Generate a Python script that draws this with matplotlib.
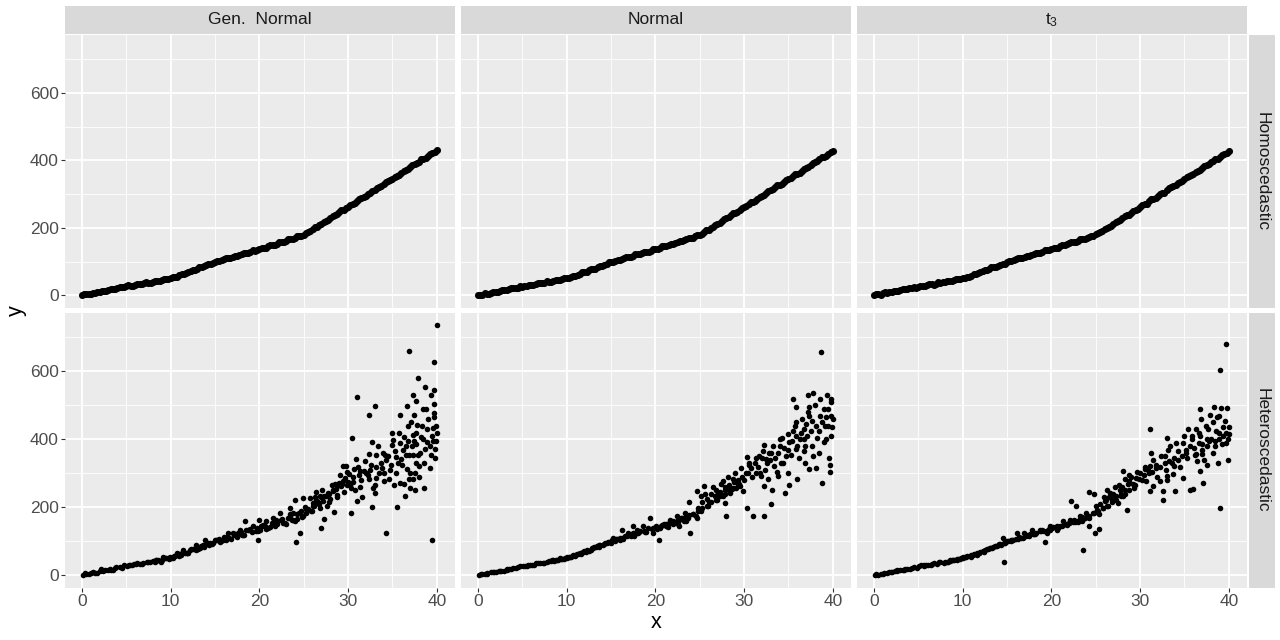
import matplotlib
matplotlib.use("Agg")
import matplotlib.pyplot as plt
import numpy as np

plt.rcParams['font.family'] = ['Liberation Sans', 'DejaVu Sans']
plt.rcParams['mathtext.fontset'] = 'custom'
plt.rcParams['mathtext.rm'] = 'Liberation Sans'

# ---------------- data ----------------
col_labels = ["Gen.  Normal", "Normal", r"$\mathregular{t_3}$"]
row_labels = ["Homoscedastic", "Heteroscedastic"]
x_ticks = [0, 10, 20, 30, 40]
y_ticks = [0, 200, 400, 600]

x_grid = [0, 0.5, 1, 1.5, 2, 2.5, 3, 3.5, 4, 4.5, 5, 5.5, 6, 6.5, 7, 7.5, 8, 8.5, 9, 9.5,
          10, 10.5, 11, 11.5, 12, 12.5, 13, 13.5, 14, 14.5, 15, 15.5, 16, 16.5, 17, 17.5,
          18, 18.5, 19, 19.5, 20, 20.5, 21, 21.5, 22, 22.5, 23, 23.5, 24, 24.5, 25, 25.5,
          26, 26.5, 27, 27.5, 28, 28.5, 29, 29.5, 30, 30.5, 31, 31.5, 32, 32.5, 33, 33.5,
          34, 34.5, 35, 35.5, 36, 36.5, 37, 37.5, 38, 38.5, 39, 39.5, 40]
x_grid_mid = [0.25, 0.75, 1.25, 1.75, 2.25, 2.75, 3.25, 3.75, 4.25, 4.75, 5.25, 5.75, 6.25,
              6.75, 7.25, 7.75, 8.25, 8.75, 9.25, 9.75, 10.25, 10.75, 11.25, 11.75, 12.25,
              12.75, 13.25, 13.75, 14.25, 14.75, 15.25, 15.75, 16.25, 16.75, 17.25, 17.75,
              18.25, 18.75, 19.25, 19.75, 20.25, 20.75, 21.25, 21.75, 22.25, 22.75, 23.25,
              23.75, 24.25, 24.75, 25.25, 25.75, 26.25, 26.75, 27.25, 27.75, 28.25, 28.75,
              29.25, 29.75, 30.25, 30.75, 31.25, 31.75, 32.25, 32.75, 33.25, 33.75, 34.25,
              34.75, 35.25, 35.75, 36.25, 36.75, 37.25, 37.75, 38.25, 38.75, 39.25, 39.75]

gn_homo_y = [1, 3, 5, 8, 11, 13, 16, 18, 21, 24, 27, 29, 31, 33, 36, 38, 40, 43, 45, 48,
             51, 55, 60, 64, 69, 74, 79, 84, 89, 94, 99, 103, 107, 111, 114, 118, 122, 126,
             130, 133, 137, 141, 145, 149, 153, 157, 162, 166, 170, 175, 180, 188, 196, 204,
             213, 221, 229, 237, 246, 254, 263, 271, 279, 288, 296, 304, 313, 321, 329, 338,
             346, 354, 363, 371, 380, 388, 396, 405, 413, 421, 430]
gn_homo_mid_y = [4, 3, 8, 9, 14, 14, 19, 19, 24, 25, 30, 29, 34, 34, 39, 38, 44, 43, 49, 49,
                 55, 56, 64, 66, 73, 76, 84, 86, 94, 96, 103, 104, 111, 112, 118, 119, 126, 127,
                 134, 134, 141, 142, 149, 150, 157, 159, 166, 167, 175, 176, 186, 191, 202, 208,
                 219, 224, 235, 241, 252, 258, 269, 274, 286, 291, 302, 308, 319, 324, 336, 341,
                 352, 358, 369, 375, 386, 391, 403, 408, 419, 425]
nm_homo_y = [0, 2, 5, 8, 10, 14, 16, 19, 21, 23, 26, 29, 31, 34, 36, 38, 41, 43, 46, 48,
             51, 55, 59, 64, 69, 74, 78, 83, 88, 93, 98, 102, 106, 110, 114, 118, 122, 126,
             129, 133, 137, 141, 145, 149, 153, 158, 162, 166, 170, 175, 179, 187, 195, 204,
             212, 220, 228, 237, 245, 253, 262, 270, 278, 287, 295, 303, 311, 320, 328, 336,
             345, 353, 361, 369, 378, 386, 394, 403, 411, 419, 427]
nm_homo_mid_y = [0, 6, 5, 11, 11, 17, 17, 22, 21, 27, 27, 32, 31, 37, 36, 42, 41, 46, 46, 52,
                 52, 59, 61, 68, 70, 78, 79, 88, 89, 98, 99, 106, 107, 114, 115, 122, 123, 130,
                 130, 137, 138, 145, 146, 153, 155, 162, 163, 170, 171, 179, 182, 193, 199, 210,
                 215, 226, 231, 243, 248, 260, 265, 276, 281, 293, 298, 309, 315, 326, 331, 342,
                 348, 359, 364, 376, 381, 392, 397, 409, 414, 425]
t3_homo_y = [1, 3, 6, 8, 11, 13, 15, 18, 21, 24, 26, 28, 31, 33, 35, 38, 41, 43, 46, 48,
             51, 54, 59, 63, 68, 74, 79, 84, 88, 93, 98, 103, 107, 111, 115, 118, 122, 126,
             130, 134, 138, 141, 145, 149, 154, 157, 161, 166, 171, 175, 181, 188, 196, 204,
             212, 220, 229, 237, 245, 253, 262, 270, 279, 287, 295, 303, 312, 320, 328, 336,
             345, 353, 361, 370, 378, 386, 394, 403, 411, 419, 427]
t3_homo_mid_y = [3, 2, 9, 9, 13, 12, 19, 19, 23, 23, 29, 29, 33, 32, 39, 39, 43, 42, 49, 49,
                 53, 54, 63, 65, 72, 74, 84, 85, 91, 94, 102, 104, 110, 111, 118, 119, 125, 126,
                 134, 135, 141, 141, 149, 151, 157, 157, 166, 167, 174, 176, 186, 191, 201, 206,
                 218, 223, 234, 239, 251, 257, 267, 272, 285, 290, 300, 305, 318, 323, 333, 338,
                 351, 356, 366, 372, 384, 389, 399, 405, 417, 422]

band_x = [0.1, 0.5, 1.0, 1.5, 2.0, 2.4, 2.9, 3.3, 3.7, 4.5, 5.3, 5.7, 6.1, 6.8, 7.5, 8.2,
          8.6, 9.0, 9.7, 10.1, 10.5, 11.2, 11.6, 12.0, 12.7, 13.1, 13.6, 14.3, 15.0, 15.7,
          16.4, 16.8, 17.6, 18.2, 19.0, 19.8, 20.2, 20.7, 21.4, 21.8, 22.5, 23.0, 23.5, 24.2,
          24.7]
gn_band_y = [2, 3, 6, 7, 12, 12, 16, 16, 21, 23, 29, 29, 33, 34, 39, 40, 45, 44, 50, 50,
             57, 60, 67, 67, 78, 77, 88, 89, 103, 100, 114, 108, 124, 120, 136, 130, 146, 137,
             155, 146, 166, 150, 180, 165, 190]
nm_band_y = [1, 4, 4, 9, 10, 14, 14, 18, 19, 25, 27, 31, 31, 36, 37, 42, 42, 46, 48, 54,
             53, 64, 63, 72, 74, 83, 82, 95, 96, 108, 106, 117, 115, 128, 126, 140, 135, 148,
             142, 158, 152, 170, 160, 180, 168]
t3_band_y = [2, 2, 5, 8, 11, 13, 16, 17, 20, 24, 29, 30, 31, 36, 38, 40, 44, 45, 49, 51,
             56, 61, 66, 68, 77, 79, 86, 90, 101, 103, 112, 111, 121, 122, 133, 133, 142, 140,
             152, 148, 162, 158, 172, 168, 183]

band2_x = [8.3, 8.9, 9.4, 9.8, 10.4, 10.9, 11.3, 11.9, 12.3, 12.9, 13.4, 13.8, 14.2, 14.7,
           15.1, 15.6, 16.0, 16.6, 17.1, 17.5, 17.9, 18.3, 18.7, 19.2, 19.7, 20.1, 20.6, 21.0,
           21.5, 22.0, 22.4, 22.9, 23.3, 23.8, 24.3, 24.8, 25.3, 25.8, 26.3, 26.8, 27.3, 27.8,
           28.3, 28.8, 29.3]
gn_band2_y = [46, 40, 51, 47, 57, 56, 66, 65, 76, 75, 87, 84, 95, 93, 104, 98, 112, 109, 118,
              113, 127, 120, 133, 127, 140, 133, 146, 140, 155, 150, 162, 154, 170, 163, 180,
              172, 195, 188, 210, 198, 232, 215, 250, 230, 268]
nm_band2_y = [44, 46, 49, 52, 53, 61, 63, 70, 74, 80, 85, 90, 93, 99, 104, 108, 111, 117, 118,
              124, 124, 130, 131, 138, 139, 145, 146, 152, 154, 160, 160, 168, 170, 178, 180,
              190, 198, 205, 215, 222, 232, 240, 250, 258, 265]
t3_band2_y = [40, 45, 46, 51, 55, 58, 64, 66, 73, 76, 84, 86, 92, 95, 101, 103, 108, 111, 116,
              117, 122, 124, 129, 130, 136, 138, 144, 145, 151, 153, 158, 160, 167, 170, 176,
              182, 190, 198, 205, 215, 222, 232, 240, 250, 258]

gn_hetero = [
    (40.0, 736), (36.9, 659), (39.7, 629), (37.9, 580), (38.7, 553), (39.7, 545), (31.0, 525),
    (37.3, 532), (39.3, 532), (37.6, 514), (33.0, 497), (32.4, 471), (36.6, 499), (39.7, 503),
    (35.8, 473), (37.4, 471), (38.4, 489), (38.8, 489), (39.7, 477), (39.7, 465), (37.1, 450),
    (37.8, 442), (39.6, 432), (30.4, 405), (40.0, 418), (35.7, 418), (35.1, 397), (36.3, 408),
    (37.3, 413), (38.2, 406), (38.9, 391), (32.7, 391), (34.9, 384), (36.5, 381), (37.7, 385),
    (38.7, 371), (39.8, 371), (39.8, 345), (39.2, 317), (32.4, 356), (33.1, 353), (33.9, 361),
    (34.5, 351), (35.4, 349), (36.0, 343), (36.9, 354), (37.7, 331), (38.0, 322), (37.3, 353),
    (30.9, 341), (30.7, 312), (29.8, 321), (29.4, 321), (30.1, 297), (31.3, 307), (31.8, 307),
    (32.4, 282), (33.0, 267), (33.5, 302), (34.1, 277), (34.6, 282), (35.2, 267), (35.8, 272),
    (36.6, 312), (36.9, 282), (37.3, 282), (37.5, 302), (36.4, 233), (37.0, 257), (37.5, 252),
    (38.6, 257), (35.5, 201), (32.7, 202), (34.3, 125), (39.5, 103), (30.3, 183), (31.0, 218),
    (31.6, 231), (33.0, 243), (32.8, 258), (30.8, 252), (30.3, 257), (29.9, 267), (29.4, 277),
    (29.0, 272), (28.5, 270), (28.3, 248), (28.8, 262), (27.7, 243), (27.5, 233), (27.2, 218),
    (26.8, 233), (26.4, 245), (26.4, 223), (25.7, 227), (24.9, 227), (26.0, 213), (26.2, 203),
    (28.4, 186), (27.3, 167), (26.9, 138), (24.1, 97), (24.6, 124), (24.0, 159), (23.4, 174),
    (24.9, 174), (25.3, 183), (24.5, 183), (23.8, 183), (23.4, 198), (24.0, 223), (22.3, 183),
    (21.9, 164), (21.5, 169), (20.8, 159), (20.0, 164), (20.4, 149), (19.9, 105), (19.3, 144),
    (18.4, 159), (18.5, 134), (17.8, 134), (17.0, 124), (16.5, 124), (15.9, 105), (15.2, 105),
    (13.9, 105), (14.4, 95), (12.9, 90), (12.2, 75), (11.4, 75), (10.7, 65), (9.9, 55),
    (9.2, 55), (8.4, 45), (7.7, 40), (6.9, 35), (6.2, 35), (5.4, 30), (4.7, 30), (3.9, 25),
    (3.2, 20), (2.2, 20), (1.3, 11), (0.4, 6),
    (0.8, 5), (1.7, 8), (2.6, 15), (3.5, 17), (4.3, 24), (5.1, 26), (5.9, 33), (6.6, 33),
    (7.3, 39), (8.0, 41), (8.8, 43), (9.5, 50), (10.3, 52), (11.0, 62), (11.8, 65), (12.5, 77),
    (13.3, 80), (14.1, 93), (14.8, 95), (15.5, 107), (16.2, 104), (17.3, 121), (18.0, 118),
    (18.8, 133), (19.6, 130), (20.5, 146), (21.2, 143), (22.0, 158), (22.7, 154), (23.2, 170),
    (23.7, 162),
    (25.5, 195), (26.0, 205), (26.6, 215), (27.0, 230), (27.9, 240), (28.6, 255), (29.2, 262),
    (29.6, 285), (30.0, 275), (30.5, 290), (31.2, 295), (31.5, 280), (32.0, 300), (32.5, 310),
    (33.2, 320), (33.7, 330), (34.0, 300), (34.3, 340), (34.8, 325), (35.3, 365), (35.6, 330),
    (36.2, 370), (36.5, 355), (36.8, 395), (37.2, 380), (37.6, 420), (38.1, 360), (38.4, 400),
    (38.9, 430), (39.2, 380), (39.5, 410), (39.9, 395),
    (25.2, 200), (25.9, 190), (26.3, 230), (26.7, 210), (27.1, 250), (27.6, 205), (28.0, 225),
    (28.2, 265), (28.7, 235), (29.1, 295), (29.5, 245), (29.9, 305), (30.2, 265), (30.6, 275),
    (31.1, 320), (31.4, 260), (31.9, 335), (32.2, 295), (32.6, 325), (33.1, 285), (33.4, 380),
    (33.8, 315), (34.2, 355), (34.7, 310), (35.0, 420), (35.4, 300), (35.9, 390), (36.1, 325),
    (36.7, 440), (37.0, 300), (37.4, 395), (37.9, 355), (38.3, 440), (38.6, 330), (39.0, 460),
    (39.3, 355), (39.6, 395), (39.9, 440), (38.0, 290), (36.3, 270),
]

nm_hetero = [
    (38.7, 656), (35.5, 519), (37.2, 531), (37.8, 536), (39.3, 531), (39.8, 519), (35.9, 494),
    (37.3, 494), (38.6, 519), (39.8, 509), (39.0, 489), (37.3, 469), (35.9, 450), (37.0, 445),
    (39.2, 465), (40.0, 460), (39.9, 437), (38.1, 440), (37.5, 425), (38.5, 425), (35.5, 425),
    (36.4, 420), (34.3, 405), (39.0, 392), (35.1, 392), (36.0, 381), (36.9, 381), (32.2, 384),
    (32.8, 361), (33.8, 361), (34.7, 351), (35.9, 371), (36.7, 366), (37.8, 351), (39.6, 346),
    (39.7, 324), (39.7, 304), (38.8, 272), (38.1, 317), (37.3, 312), (36.0, 282), (35.1, 267),
    (34.6, 243), (33.2, 252), (34.2, 331), (33.4, 321), (32.5, 341), (31.7, 351), (30.3, 349),
    (30.6, 326), (30.2, 302), (31.3, 302), (31.9, 292), (32.7, 282), (33.8, 292), (32.3, 262),
    (33.0, 211), (32.2, 174), (31.0, 176), (30.3, 197), (29.5, 262), (29.9, 248), (29.1, 257),
    (28.7, 282), (28.4, 243), (27.6, 233), (27.8, 213), (28.0, 176), (26.9, 223), (27.6, 277),
    (26.7, 233), (25.9, 203), (25.5, 262), (24.7, 249), (25.2, 233), (24.8, 198), (24.6, 174),
    (23.8, 215), (23.9, 124), (23.3, 183), (22.7, 144), (22.4, 174), (21.6, 164), (21.2, 144),
    (20.4, 105), (19.7, 124), (19.4, 169), (18.6, 144), (17.9, 134), (17.5, 144), (16.9, 124),
    (16.2, 134), (16.0, 105), (15.2, 109), (14.5, 95), (13.7, 90), (13.0, 80), (12.2, 70),
    (11.5, 65), (10.7, 60), (10.0, 50), (9.3, 50), (8.5, 45), (7.8, 40), (7.0, 36), (6.3, 31),
    (5.5, 26), (4.8, 26), (4.0, 21), (3.3, 16), (2.5, 14), (1.8, 11), (1.0, 8), (0.3, 4),
    (0.8, 4), (1.7, 10), (2.6, 13), (3.5, 19), (4.3, 22), (5.1, 28), (5.9, 30), (6.6, 35),
    (7.3, 36), (8.0, 42), (8.8, 45), (9.5, 47), (10.3, 55), (11.0, 58), (11.8, 68), (12.5, 72),
    (13.3, 84), (14.1, 88), (14.8, 99), (15.5, 101), (16.2, 110), (17.3, 115), (18.0, 125),
    (18.8, 126), (19.6, 137), (20.5, 139), (21.2, 150), (22.0, 151), (22.7, 162), (23.2, 160),
    (23.7, 170),
    (25.3, 215), (25.8, 225), (26.3, 240), (26.8, 250), (27.3, 245), (27.9, 260), (28.3, 265),
    (28.9, 275), (29.3, 280), (29.8, 290), (30.4, 300), (30.8, 315), (31.2, 330), (31.6, 320),
    (32.0, 345), (32.6, 330), (33.0, 360), (33.5, 345), (34.0, 380), (34.5, 375), (35.0, 370),
    (35.4, 395), (35.8, 410), (36.3, 400), (36.7, 430), (37.1, 410), (37.7, 455), (38.2, 405),
    (38.6, 470), (39.1, 440), (39.5, 490), (39.8, 470),
    (25.1, 190), (25.6, 240), (26.1, 215), (26.5, 260), (27.0, 235), (27.4, 270), (27.8, 250),
    (28.2, 290), (28.6, 255), (29.0, 300), (29.4, 270), (29.7, 315), (30.0, 280), (30.5, 330),
    (30.9, 290), (31.4, 345), (31.8, 300), (32.1, 365), (32.4, 310), (32.9, 340), (33.3, 380),
    (33.7, 305), (34.1, 400), (34.4, 330), (34.9, 415), (35.3, 355), (35.7, 440), (36.2, 345),
    (36.5, 460), (36.8, 400), (37.2, 480), (37.6, 380), (38.0, 500), (38.4, 360), (38.8, 450),
    (39.2, 400), (39.5, 440), (39.8, 410), (36.9, 330), (35.0, 300),
]

t3_hetero = [
    (39.7, 681), (39.0, 603), (39.0, 198), (36.7, 489), (38.3, 496), (39.1, 491), (39.8, 491),
    (37.9, 471), (36.9, 460), (38.7, 465), (39.3, 435), (40.0, 435), (35.4, 430), (36.3, 430),
    (37.6, 430), (38.6, 425), (31.1, 430), (34.8, 390), (35.8, 400), (36.7, 410), (37.5, 400),
    (38.9, 400), (39.7, 390), (33.0, 405), (33.4, 380), (34.3, 366), (35.2, 361), (36.3, 356),
    (37.0, 356), (38.2, 361), (38.8, 331), (39.9, 338), (37.5, 326), (36.7, 306), (37.1, 272),
    (35.6, 252), (36.0, 255), (34.8, 287), (33.8, 321), (32.8, 351), (31.8, 326), (31.1, 321),
    (30.5, 312), (29.9, 282), (30.7, 277), (31.5, 262), (32.2, 277), (33.0, 292), (33.7, 297),
    (33.9, 248), (32.6, 248), (32.6, 223), (31.1, 248), (29.4, 267), (28.8, 277), (28.1, 306),
    (28.3, 282), (27.7, 252), (27.3, 233), (28.1, 233), (28.5, 193), (27.5, 213), (26.6, 243),
    (26.2, 223), (26.4, 203), (25.8, 198), (25.1, 193), (24.3, 245), (24.8, 238), (23.6, 75),
    (24.9, 124), (25.4, 137), (24.3, 144), (23.4, 159), (23.9, 183), (22.8, 203), (22.2, 218),
    (23.2, 174), (22.1, 164), (21.3, 159), (20.6, 134), (19.9, 144), (19.3, 98), (19.5, 124),
    (18.7, 134), (17.8, 134), (16.9, 124), (16.1, 124), (15.4, 100), (14.6, 109), (14.7, 40),
    (13.9, 85), (13.1, 80), (12.4, 70), (11.6, 60), (10.9, 55), (10.1, 53), (9.4, 47), (8.6, 42),
    (7.9, 36), (7.1, 34), (6.4, 30), (5.6, 26), (4.9, 23), (4.1, 20), (3.4, 16), (2.6, 14),
    (1.9, 11), (1.1, 8), (0.2, 4),
    (0.8, 5), (1.7, 9), (2.6, 15), (3.5, 18), (4.3, 23), (5.1, 27), (5.9, 31), (6.6, 34),
    (7.3, 38), (8.0, 40), (8.8, 44), (9.5, 49), (10.3, 53), (11.0, 61), (11.8, 66), (12.5, 75),
    (13.3, 81), (14.1, 91), (14.8, 96), (15.5, 104), (16.2, 107), (17.3, 118), (18.0, 121),
    (18.8, 129), (19.6, 133), (20.5, 142), (21.2, 146), (22.0, 154), (22.7, 158), (23.2, 165),
    (23.7, 168),
    (25.5, 210), (26.0, 220), (26.5, 230), (27.0, 240), (27.6, 265), (28.0, 260), (28.6, 270),
    (29.0, 290), (29.5, 285), (30.0, 300), (30.4, 295), (30.9, 310), (31.3, 305), (31.8, 315),
    (32.3, 320), (32.8, 330), (33.3, 335), (33.8, 345), (34.3, 340), (34.7, 350), (35.2, 370),
    (35.6, 380), (36.1, 375), (36.6, 390), (37.0, 385), (37.5, 380), (38.0, 400), (38.4, 395),
    (38.9, 420), (39.3, 410), (39.7, 420), (40.0, 415),
    (25.0, 205), (25.4, 180), (25.9, 230), (26.3, 250), (26.8, 225), (27.2, 260), (27.8, 240),
    (28.3, 250), (28.7, 295), (29.2, 270), (29.7, 305), (30.2, 280), (30.6, 320), (31.0, 300),
    (31.5, 340), (31.9, 290), (32.4, 350), (32.9, 310), (33.2, 370), (33.6, 330), (34.1, 390),
    (34.5, 320), (34.9, 410), (35.3, 345), (35.8, 410), (36.2, 355), (36.6, 420), (37.0, 370),
    (37.4, 440), (37.8, 395), (38.2, 450), (38.5, 380), (38.9, 470), (39.2, 385), (39.6, 455),
    (39.9, 400), (36.4, 335), (33.0, 280), (31.2, 360), (37.2, 340),
]

# ---------------- layout ----------------
W, H = 1280, 640
fig = plt.figure(figsize=(12.8, 6.4), dpi=100)


def rect(l, t, r, b):
    return [l / W, 1 - b / H, (r - l) / W, (b - t) / H]


cols = [(65, 455), (461, 851), (857, 1247)]
rows = [(35, 308), (313, 588)]
homo_data = [(gn_homo_y, gn_homo_mid_y), (nm_homo_y, nm_homo_mid_y), (t3_homo_y, t3_homo_mid_y)]
band_data = [gn_band_y, nm_band_y, t3_band_y]
band2_data = [gn_band2_y, nm_band2_y, t3_band2_y]
hetero_data = [gn_hetero, nm_hetero, t3_hetero]

for ri, (t, b) in enumerate(rows):
    for ci, (l, r) in enumerate(cols):
        ax = fig.add_axes(rect(l, t, r, b))
        ax.set_facecolor('#EBEBEB')
        for s in ax.spines.values():
            s.set_visible(False)
        ax.set_xlim(-1.9, 42.05)
        ax.set_ylim(-37.3, 771.8)
        ax.set_xticks(x_ticks)
        ax.set_xticks([5, 15, 25, 35], minor=True)
        ax.set_yticks(y_ticks)
        ax.set_yticks([100, 300, 500, 700], minor=True)
        ax.grid(which='major', color='white', lw=1.3)
        ax.grid(which='minor', color='white', lw=0.6)
        ax.set_axisbelow(True)
        ax.tick_params(which='minor', length=0)
        ax.tick_params(which='major', length=3, width=0.8, color='#333333',
                       labelsize=12.5, labelcolor='#4D4D4D', pad=1.5)
        if ci != 0:
            ax.tick_params(axis='y', length=0, labelleft=False)
        if ri != 1:
            ax.tick_params(axis='x', length=0, labelbottom=False)

        if ri == 0:
            ys_main, ys_mid = homo_data[ci]
            ax.scatter(x_grid, ys_main, s=26, color='black', linewidths=0, zorder=3)
            ax.scatter(x_grid_mid, ys_mid, s=26, color='black', linewidths=0, zorder=3)
        else:
            xs, ys = zip(*hetero_data[ci])
            ax.scatter(xs, ys, s=16, color='black', linewidths=0, zorder=3)
            ax.scatter(band_x, band_data[ci], s=16, color='black', linewidths=0, zorder=3)
            ax.scatter(band2_x, band2_data[ci], s=16, color='black', linewidths=0, zorder=3)

        if ri == 0:
            sax = fig.add_axes(rect(l, 6, r, 34))
            sax.set_facecolor('#D9D9D9')
            sax.set_xticks([]); sax.set_yticks([])
            for s in sax.spines.values():
                s.set_visible(False)
            sax.text(0.5, 0.5, col_labels[ci], ha='center', va='center',
                     fontsize=12.5, color='#1A1A1A', transform=sax.transAxes)
    rax = fig.add_axes(rect(1249, t, 1275, b))
    rax.set_facecolor('#D9D9D9')
    rax.set_xticks([]); rax.set_yticks([])
    for s in rax.spines.values():
        s.set_visible(False)
    rax.text(0.5, 0.5, row_labels[ri], ha='center', va='center', rotation=-90,
             fontsize=12.5, color='#1A1A1A', transform=rax.transAxes)

fig.text(656 / W, 1 - 622 / H, "x", ha='center', va='center', fontsize=15.5, color='black')
fig.text(16 / W, 1 - 311 / H, "y", ha='center', va='center', rotation=90, fontsize=15.5,
         color='black')

fig.savefig("out.png", dpi=100, facecolor='white')
